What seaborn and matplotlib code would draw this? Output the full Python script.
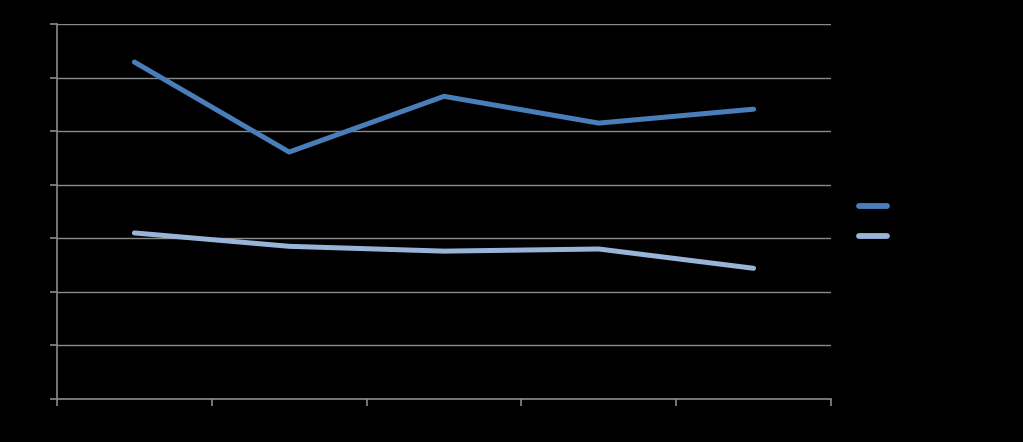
import matplotlib
matplotlib.use("Agg")
import matplotlib.pyplot as plt
import numpy as np
import pandas as pd
import seaborn as sns

# values (axis 0-70, labels drawn black on black)
categories = ["1", "2", "3", "4", "5"]
series_1 = [62.9, 46.1, 56.5, 51.5, 54.1]
series_2 = [31.0, 28.5, 27.6, 28.0, 24.4]
series_names = ["Series 1", "Series 2"]
y_ticks = [0, 10, 20, 30, 40, 50, 60, 70]

df = pd.DataFrame({
    "pos": list(range(len(categories))) * 2,
    "value": series_1 + series_2,
    "series": [series_names[0]] * len(categories) + [series_names[1]] * len(categories),
})

sns.set_style("dark")
plt.rcParams["font.family"] = ["DejaVu Sans"]

fig = plt.figure(figsize=(10.23, 4.42), dpi=100, facecolor="black")
ax = fig.add_axes([0.0557, 0.0973, 0.7566, 0.8484])
ax.set_facecolor("black")

grid_col = "#8A8A8A"
palette = {series_names[0]: "#4A7EBB", series_names[1]: "#98B4D9"}
sns.lineplot(data=df, x="pos", y="value", hue="series", palette=palette,
             linewidth=3.6, ax=ax, solid_capstyle="round")

ax.set_ylim(0, 70)
ax.set_yticks(y_ticks)
ax.set_yticklabels([str(t) for t in y_ticks], color="black", fontsize=9)
ax.yaxis.grid(True, color=grid_col, linewidth=1)
ax.xaxis.grid(False)
ax.set_axisbelow(True)

ax.set_xlim(-0.5, len(categories) - 0.5)
ax.set_xticks(np.arange(-0.5, len(categories)))
ax.set_xticklabels([])
ax.set_xticks(range(len(categories)), minor=True)
ax.set_xticklabels(categories, minor=True, color="black", fontsize=9)
ax.tick_params(axis="x", which="minor", length=0, bottom=True)
ax.tick_params(axis="both", which="major", length=5, width=1.2, color=grid_col,
               direction="out", bottom=True, left=True)
ax.set_xlabel("")
ax.set_ylabel("")

for side in ["top", "right"]:
    ax.spines[side].set_visible(False)
for side in ["left", "bottom"]:
    ax.spines[side].set_visible(True)
    ax.spines[side].set_color(grid_col)
    ax.spines[side].set_linewidth(1.2)

leg = ax.legend(loc="center left", bbox_to_anchor=(1.022, 0.473), frameon=False,
                handlelength=2.2, labelspacing=1.35, fontsize=9)
for txt in leg.get_texts():
    txt.set_color("black")
for line in leg.get_lines():
    line.set_linewidth(4.2)

fig.savefig("out.png", dpi=100, facecolor="black")
